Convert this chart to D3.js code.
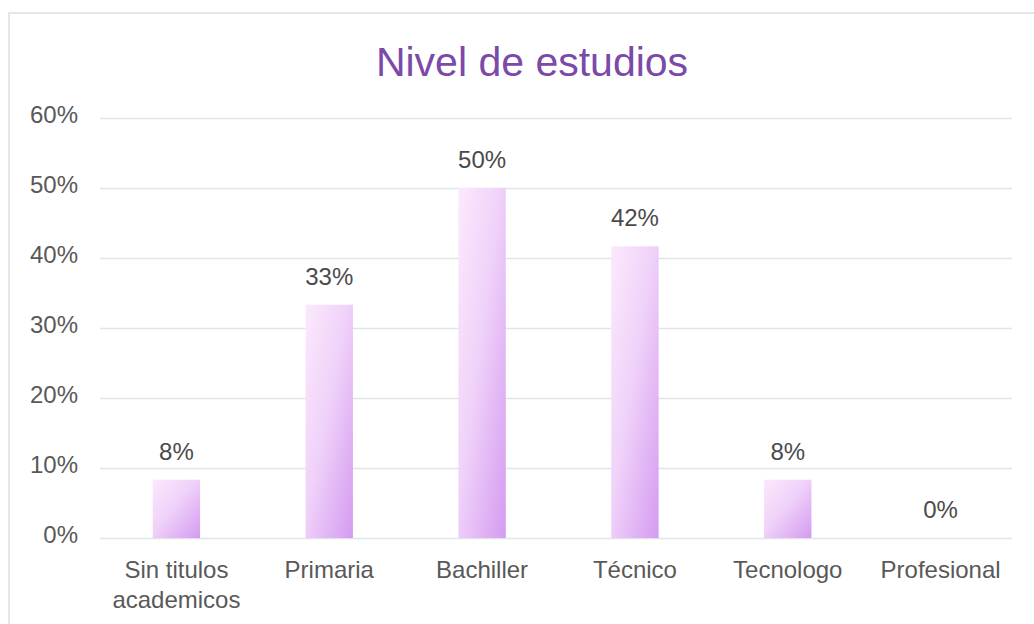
<!DOCTYPE html>
<html>
<head>
<meta charset="utf-8">
<script src="https://cdn.jsdelivr.net/npm/d3@7"></script>
<style>
  body { margin: 0; background: #fff; font-family: "Liberation Sans", Arial, sans-serif; }
  #chart { width: 1034px; height: 624px; }
  .grid line { stroke: #dfe5e8; stroke-width: 1.5; }
  .grid .domain { display: none; }
  .axis text { fill: #595959; font-size: 24px; font-family: "Liberation Sans", Arial, sans-serif; }
  .axis .domain, .axis line { display: none; }
</style>
</head>
<body>
<div id="chart"></div>
<script>
// Datos
const categories = ['Sin titulos academicos', 'Primaria', 'Bachiller', 'Técnico', 'Tecnologo', 'Profesional'];
const categoryLines = [['Sin titulos', 'academicos'], ['Primaria'], ['Bachiller'], ['Técnico'], ['Tecnologo'], ['Profesional']];
const values = [8.33, 33.33, 50, 41.67, 8.33, 0];
const valueLabels = ['8%', '33%', '50%', '42%', '8%', '0%'];
const yTicks = [0, 10, 20, 30, 40, 50, 60];

const W = 1034, H = 624;
const margin = {top: 118, right: 17, bottom: 86, left: 100};
const width = W - margin.left - margin.right;
const height = H - margin.top - margin.bottom;

const root = d3.select('#chart').append('svg')
    .attr('width', W)
    .attr('height', H);

// Tarjeta
root.append('rect')
    .attr('x', 9).attr('y', 13)
    .attr('width', W + 20).attr('height', H)
    .attr('fill', '#fff')
    .attr('stroke', '#dedede')
    .attr('stroke-width', 1.5);

// Gradiente
const defs = root.append('defs');
const grad = defs.append('linearGradient')
    .attr('id', 'barGrad')
    .attr('x1', 0).attr('y1', 0).attr('x2', 1).attr('y2', 1);
grad.append('stop').attr('offset', '0%').attr('stop-color', '#fbe9fd');
grad.append('stop').attr('offset', '45%').attr('stop-color', '#f0d2f9');
grad.append('stop').attr('offset', '100%').attr('stop-color', '#d49bf1');

// Título
root.append('text')
    .attr('x', 532)
    .attr('y', 76)
    .attr('text-anchor', 'middle')
    .attr('fill', '#7b4aa9')
    .style('font-size', '41px')
    .text('Nivel de estudios');

const svg = root.append('g')
    .attr('transform', `translate(${margin.left},${margin.top})`);

// Escalas
const x = d3.scaleBand()
    .domain(categories)
    .range([0, width])
    .paddingInner(0.69)
    .paddingOuter(0.345);

const y = d3.scaleLinear()
    .domain([0, 60])
    .range([height, 0]);

// Grade
svg.append('g')
    .attr('class', 'grid')
    .call(d3.axisLeft(y).tickValues(yTicks).tickSize(-(width - 5)).tickFormat(''));

// Eixo Y
svg.append('g')
    .attr('class', 'axis')
    .attr('transform', 'translate(-4,0)')
    .call(d3.axisLeft(y).tickValues(yTicks).tickSize(0).tickPadding(18).tickFormat(d => d + '%'))
    .selectAll('text')
    .attr('dy', '0.2em');

// Barras
svg.selectAll('.bar')
    .data(values)
    .enter().append('rect')
    .attr('class', 'bar')
    .attr('x', (d, i) => x(categories[i]))
    .attr('y', d => y(d))
    .attr('width', x.bandwidth())
    .attr('height', d => height - y(d))
    .attr('fill', 'url(#barGrad)');

// Etiquetas de valor
svg.selectAll('.value-label')
    .data(values)
    .enter().append('text')
    .attr('class', 'value-label')
    .attr('x', (d, i) => x(categories[i]) + x.bandwidth() / 2)
    .attr('y', d => y(d) - 20)
    .attr('text-anchor', 'middle')
    .attr('fill', '#4a4a4a')
    .style('font-size', '24px')
    .text((d, i) => valueLabels[i]);

// Eixo X
const xLabels = svg.selectAll('.x-label')
    .data(categoryLines)
    .enter().append('text')
    .attr('class', 'x-label')
    .attr('x', (d, i) => x(categories[i]) + x.bandwidth() / 2)
    .attr('y', height + 40)
    .attr('text-anchor', 'middle')
    .attr('fill', '#595959')
    .style('font-size', '24px');

xLabels.each(function(lines, i) {
    const t = d3.select(this);
    lines.forEach((line, j) => {
        t.append('tspan')
            .attr('x', x(categories[i]) + x.bandwidth() / 2)
            .attr('dy', j === 0 ? 0 : 30)
            .text(line);
    });
});
</script>
</body>
</html>
